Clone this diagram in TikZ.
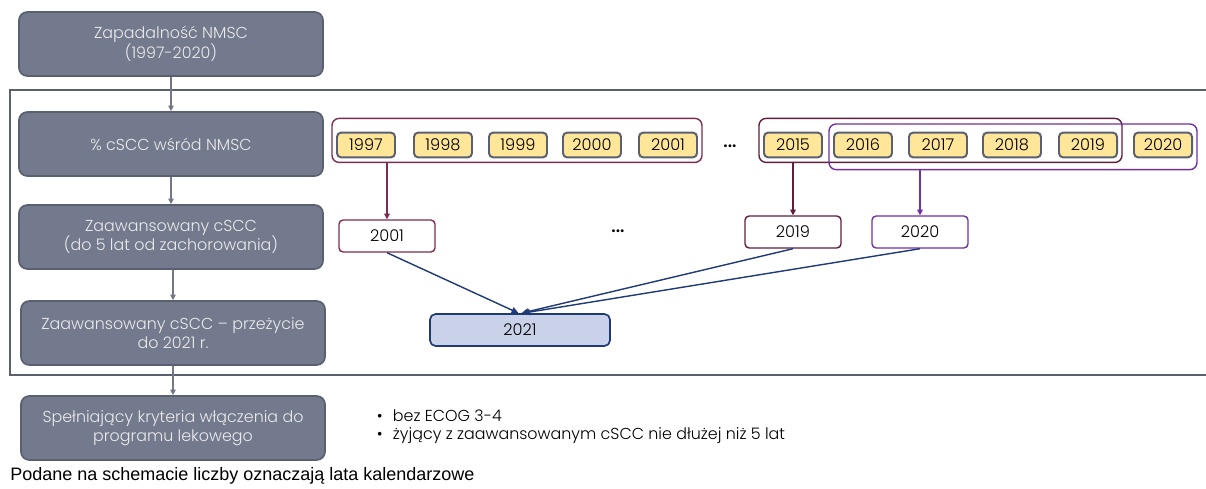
\documentclass[tikz,border=0pt]{standalone}
\usepackage{fontspec}
\setmainfont{Poppins}[UprightFont=* Light]
\newfontfamily\notefont{Liberation Sans}
\usetikzlibrary{positioning,fit,arrows.meta}

\definecolor{boxgray}{HTML}{737A8D}
\definecolor{edgegray}{HTML}{5A6070}
\definecolor{yearfill}{HTML}{FFE699}
\definecolor{wine}{HTML}{7B2C52}
\definecolor{darkwine}{HTML}{5E1E3C}
\definecolor{violet}{HTML}{7030A0}
\definecolor{navy}{HTML}{1F3A75}
\definecolor{paleblue}{HTML}{C9D2E8}

\tikzset{
  stepbox/.style={draw=edgegray, line width=1.2pt, fill=boxgray, rounded corners=6pt,
    text=white!92!black, minimum width=7.6cm, minimum height=1.6cm, align=center,
    font=\fontsize{11.3}{14}\selectfont},
  yearbox/.style={draw=edgegray, line width=1.4pt, fill=yearfill, rounded corners=3pt,
    minimum width=1.45cm, minimum height=0.62cm, inner sep=0pt, font=\fontsize{11.5}{12}\selectfont},
  resbox/.style={draw=#1, line width=1pt, fill=white, rounded corners=3pt,
    minimum width=2.4cm, minimum height=0.8cm, font=\fontsize{11.5}{12}\selectfont},
  group/.style={draw=#1, line width=1pt, rounded corners=5pt, inner sep=0.1cm},
  flow/.style={-{Triangle[length=4pt,width=4pt]}, draw=edgegray!85, line width=0.8pt},
  pick/.style={-{Triangle[length=4pt,width=4pt]}, draw=#1, fill=#1, line width=1pt},
  merge/.style={-{Triangle[length=5pt,width=4.5pt]}, draw=navy, fill=navy, line width=1pt},
}

\begin{document}
\begin{tikzpicture}[x=0.025cm,y=-0.025cm]
  \useasboundingbox (0,0) rectangle (1206,488);
  % outer frame, runs off the right edge
  \begin{scope}
    \clip (0,0) rectangle (1206,488);
    \draw[edgegray, line width=1.4pt] (10,90) rectangle (1230,375);
  \end{scope}

  % left column
  \node[stepbox] (inc) at (171,44) {Zapadalność NMSC\\(1997-2020)};
  \node[stepbox] (pct) at (171,144) {\% cSCC wśród NMSC};
  \node[stepbox] (adv) at (171,237) {Zaawansowany cSCC\\(do 5 lat od zachorowania)};
  \node[stepbox] (surv) at (173,333) {Zaawansowany cSCC -- przeżycie\\do 2021 r.};
  \node[stepbox] (elig) at (173,428) {Spełniający kryteria włączenia do\\programu lekowego};
  \draw[flow] (inc) -- (pct);
  \draw[flow] (pct) -- (adv);
  \draw[flow] (adv.south -| surv) -- (surv);
  \draw[flow] (surv) -- (elig);

  % calendar years
  \foreach \yr/\xc in {1997/366,1998/443,1999/518,2000/592,2001/668,
                      2015/793,2016/863,2017/938,2018/1012,2019/1088,2020/1163}
    \node[yearbox] (y\yr) at (\xc,145) {\yr};
  \node[font=\bfseries\large] (dotsa) at (730,146) {...};

  \node[group=wine, fit={([yshift=0.23cm]y1997.north west)(y2001.south east)}] (g1) {};
  \node[group=darkwine, fit={([yshift=0.23cm]y2015.north west)(y2019.south east)}] (g2) {};
  \node[group=violet, fit={([yshift=0.09cm]y2016.north west)([yshift=-0.18cm]y2020.south east)}] (g3) {};

  % five-year windows
  \node[resbox=wine] (r2001) at (387,236) {2001};
  \node[font=\bfseries\large] (dotsb) at (618,231) {...};
  \node[resbox=darkwine] (r2019) at (793,232) {2019};
  \node[resbox=violet] (r2020) at (920,232) {2020};
  \draw[pick=wine] (g1.south -| r2001.north) -- (r2001.north);
  \draw[pick=darkwine] (g2.south -| r2019.north) -- (r2019.north);
  \draw[pick=violet] (g3.south -| r2020.north) -- (r2020.north);

  \node[draw=navy, line width=1.2pt, fill=paleblue, rounded corners=4pt,
        minimum width=4.5cm, minimum height=0.8cm, font=\fontsize{11.5}{12}\selectfont] (y2021) at (520,330) {2021};
  \draw[merge] (r2001.south) -- ([xshift=-1pt]y2021.north);
  \draw[merge] (r2019.south) -- ([xshift=1pt]y2021.north);
  \draw[merge] (r2020.south) -- ([xshift=2pt]y2021.north);

  % criteria and note
  \node[anchor=west, align=left, font=\fontsize{11.3}{13}\selectfont] (crit) at (372,427)
    {\makebox[0.4cm][l]{\textbullet}bez ECOG 3-4\\
     \makebox[0.4cm][l]{\textbullet}żyjący z zaawansowanym cSCC nie dłużej niż 5 lat};
  \node[anchor=west, inner sep=0pt, font=\notefont\fontsize{12.8}{15}\selectfont] (note) at (10,476)
    {Podane na schemacie liczby oznaczają lata kalendarzowe};
\end{tikzpicture}
\end{document}
